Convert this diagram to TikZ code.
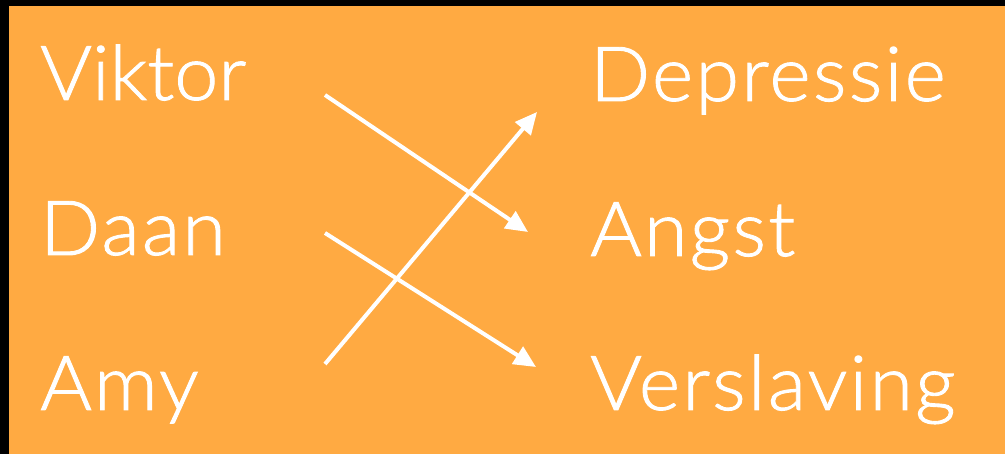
\documentclass[tikz,border=0pt]{standalone}
\usepackage{fontspec}
\setmainfont{Lato}[UprightFont=* Light, FakeStretch=1.04, FakeBold=1.2, LetterSpace=3]
\usetikzlibrary{arrows.meta}
\definecolor{bgorange}{RGB}{255,170,66}
\tikzset{
  word/.style={anchor=base west, inner sep=0pt, text=white, font=\fontsize{76}{76}\selectfont},
  tight/.style={font=\fontsize{76}{76}\selectfont\addfontfeature{LetterSpace=0}},
  link/.style={draw=white, line width=4pt, -{Triangle[length=22pt,width=20pt]}}
}
\begin{document}
\begin{tikzpicture}[x=1pt,y=-1pt]
  \useasboundingbox (0,0) rectangle (1005,454);
  \fill[black] (0,0) rectangle (1005,454);
  \fill[bgorange] (9,6) rectangle (1005,454);
  % people
  \node[word, tight] (viktor) at (40,100) {Viktor};
  \node[word] (daan) at (40,255) {Daan};
  \node[word] (amy) at (40,410) {Amy};
  % conditions
  \node[word] (depressie) at (590,101) {Depressie};
  \node[word] (angst) at (590,256) {Angst};
  \node[word] (verslaving) at (590,410) {Verslaving};
  % arrow endpoints
  \coordinate (v0) at (325,95);
  \coordinate (v1) at (528,232);
  \coordinate (d0) at (325,233);
  \coordinate (d1) at (536,367);
  \coordinate (a0) at (325,364);
  \coordinate (a1) at (537,112);
  \draw[link] (v0) -- (v1);
  \draw[link] (d0) -- (d1);
  \draw[link] (a0) -- (a1);
\end{tikzpicture}
\end{document}
